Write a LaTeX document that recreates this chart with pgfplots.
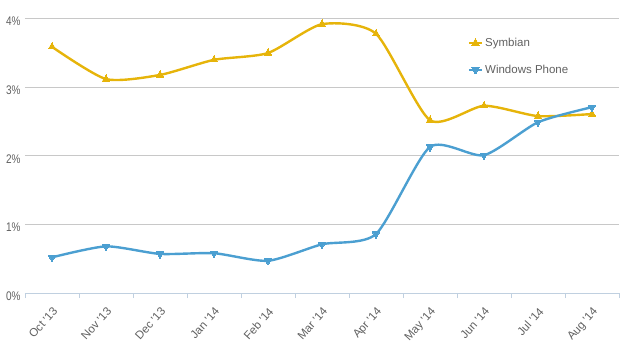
\documentclass[border=0pt]{standalone}
\usepackage{fontspec}
\setmainfont{Liberation Sans}
\usepackage{pgfplots}
\pgfplotsset{compat=1.18}
\definecolor{sym}{HTML}{E6B40A}
\definecolor{wp}{HTML}{4B9FD1}
\definecolor{gridc}{HTML}{C8C8C8}
\definecolor{axc}{HTML}{C0D0E0}
\definecolor{lab}{HTML}{606060}
\begin{document}
\begin{tikzpicture}
\path[use as bounding box] (0,0) rectangle (620pt,356pt);
\begin{axis}[
  at={(25pt,63pt)}, anchor=south west,
  scale only axis, width=594pt, height=274.3pt,
  xmin=-0.5, xmax=10.5, ymin=0, ymax=4,
  axis x line=bottom, axis y line=left,
  x axis line style={-, draw=axc, line width=1pt},
  y axis line style={draw=none},
  xtick={0,...,10},
  xticklabels={Oct \textquotesingle13, Nov \textquotesingle13, Dec \textquotesingle13, Jan \textquotesingle14, Feb \textquotesingle14, Mar \textquotesingle14, Apr \textquotesingle14, May \textquotesingle14, Jun \textquotesingle14, Jul \textquotesingle14, Aug \textquotesingle14},
  minor xtick={-0.5,0.5,...,10.5},
  major tick length=0pt, minor tick length=5pt, tick align=outside,
  minor tick style={draw=axc, line width=0.8pt},
  ytick={0,1,2,3,4},
  yticklabels={0\%,1\%,2\%,3\%,4\%},
  ymajorgrids, major grid style={draw=gridc, line width=0.9pt},
  yticklabel style={font=\fontsize{12.5}{14}\selectfont, text=lab, xscale=0.8, yshift=-3pt, anchor=east, xshift=-2pt},
  xticklabel style={font=\fontsize{11.5}{13}\selectfont, text=lab, yshift=-12pt, xshift=0pt, rotate=48, anchor=north east, inner sep=1pt},
  legend style={draw=none, fill=none, at={(0.74,0.945)}, anchor=north west, font=\fontsize{11.5}{13}\selectfont, text=lab, row sep=13pt, cells={anchor=west}},
  legend image code/.code={\draw[mark repeat=2,mark phase=2,#1] plot coordinates {(0pt,0pt)(6.5pt,0pt)(13pt,0pt)};},
  clip=false,
]
\addplot[sym, line width=2.4pt, smooth, tension=0.4, mark=triangle*, mark size=4.2pt, mark options={line width=0pt, solid}] coordinates {
(0,3.59)(1,3.12)(2,3.18)(3,3.40)(4,3.50)(5,3.92)(6,3.78)(7,2.52)(8,2.73)(9,2.58)(10,2.61)};
\addlegendentry{Symbian}
\addplot[wp, line width=2.4pt, smooth, tension=0.4, mark=triangle*, mark size=4.2pt, mark options={rotate=180, line width=0pt, solid}] coordinates {
(0,0.52)(1,0.68)(2,0.57)(3,0.58)(4,0.47)(5,0.71)(6,0.86)(7,2.13)(8,2.01)(9,2.49)(10,2.71)};
\addlegendentry{Windows Phone}
\end{axis}
\end{tikzpicture}
\end{document}
